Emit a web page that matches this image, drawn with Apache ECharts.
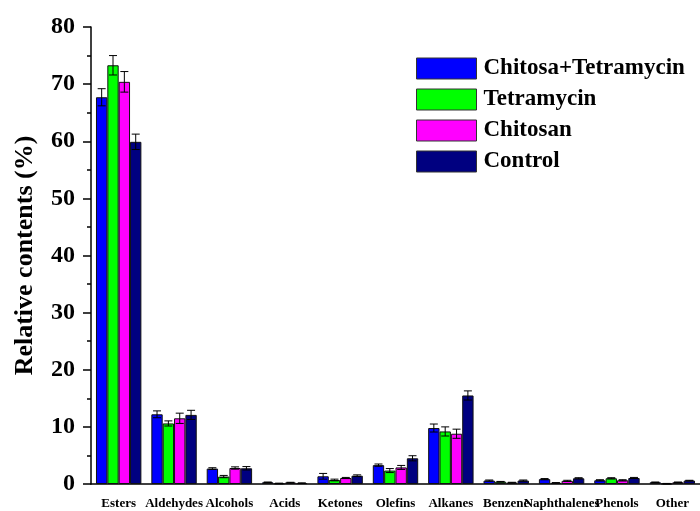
<!DOCTYPE html>
<html>
<head>
<meta charset="utf-8">
<script src="https://cdn.jsdelivr.net/npm/echarts@6/dist/echarts.min.js"></script>
<style>html,body{margin:0;padding:0;background:#fff}#c{width:700px;height:511px}</style>
</head>
<body>
<div id="c"></div>
<script>
const categories = ['Esters','Aldehydes','Alcohols','Acids','Ketones','Olefins','Alkanes','Benzene','Naphthalenes','Phenols','Other'];
const seriesNames = ['Chitosa+Tetramycin','Tetramycin','Chitosan','Control'];
const chitosaTetramycin = [67.7, 12.2, 2.7, 0.3, 1.35, 3.3, 9.8, 0.6, 0.85, 0.65, 0.3];
const tetramycin        = [73.3, 10.6, 1.3, 0.1, 0.7, 2.35, 9.2, 0.4, 0.2, 1.0, 0.05];
const chitosan          = [70.4, 11.5, 2.8, 0.25, 1.05, 2.9, 8.8, 0.25, 0.55, 0.65, 0.3];
const control           = [59.9, 12.1, 2.75, 0.15, 1.45, 4.5, 15.5, 0.6, 1.0, 1.05, 0.6];
const chitosaTetramycinErr = [1.5, 0.6, 0.15, 0.05, 0.5, 0.2, 0.7, 0.1, 0.1, 0.1, 0.05];
const tetramycinErr        = [1.7, 0.45, 0.2, 0.05, 0.15, 0.35, 0.8, 0.05, 0.05, 0.1, 0.05];
const chitosanErr          = [1.8, 0.9, 0.2, 0.05, 0.1, 0.35, 0.8, 0.05, 0.1, 0.1, 0.05];
const controlErr           = [1.35, 0.8, 0.3, 0.05, 0.15, 0.45, 0.8, 0.1, 0.1, 0.1, 0.05];
const yTicks = [0,10,20,30,40,50,60,70,80];

const values = [chitosaTetramycin, tetramycin, chitosan, control];
const errors = [chitosaTetramycinErr, tetramycinErr, chitosanErr, controlErr];
const colors = ['#0000FF','#00FF00','#FF00FF','#000080'];
const FONT = 'Liberation Serif';
const CAT_GAP = 0.18;

const chart = echarts.init(document.getElementById('c'));
const series = [];
values.forEach((vals, k) => {
  series.push({
    name: seriesNames[k], type: 'bar', xAxisIndex: 0, data: vals,
    barGap: '0%', barCategoryGap: (CAT_GAP*100)+'%',
    itemStyle: {color: colors[k], borderColor: '#111', borderWidth: 1},
    z: 2
  });
});
values.forEach((vals, k) => {
  series.push({
    type: 'custom', xAxisIndex: 0, z: 5, silent: true,
    data: categories.map((c, i) => [i, vals[i], errors[k][i]]),
    encode: {x: 0, y: 1},
    renderItem: function (params, api) {
      const i = api.value(0), v = api.value(1), e = api.value(2);
      const c = api.coord([i, v]);
      const band = api.size([1, 0])[0];
      const bw = band * (1 - CAT_GAP) / 4;
      const x = c[0] + (k - 1.5) * bw;
      const top = api.coord([i, v + e])[1];
      const bot = api.coord([i, Math.max(0, v - e)])[1];
      const cap = 4;
      const st = {stroke: '#000', lineWidth: 1};
      return {type: 'group', children: [
        {type: 'line', shape: {x1: x, y1: top, x2: x, y2: bot}, style: st},
        {type: 'line', shape: {x1: x - cap, y1: top, x2: x + cap, y2: top}, style: st},
        {type: 'line', shape: {x1: x - cap, y1: bot, x2: x + cap, y2: bot}, style: st}
      ]};
    }
  });
});

chart.setOption({
  animation: false,
  backgroundColor: '#fff',
  grid: {left: 91, right: -7, top: 27, bottom: 27, containLabel: false},
  legend: {
    data: seriesNames, orient: 'vertical', left: 416, top: 57, padding: 0,
    itemWidth: 60, itemHeight: 21, itemGap: 8, icon: 'rect',
    itemStyle: {borderColor: '#333', borderWidth: 1},
    textStyle: {fontFamily: FONT, fontWeight: 'bold', fontSize: 23, lineHeight: 21, color: '#000', padding: [0,0,0,2]}
  },
  xAxis: [{
    type: 'category', data: categories, position: 'bottom',
    axisLine: {lineStyle: {color: '#000', width: 1.5}},
    axisTick: {alignWithLabel: true, length: 8, lineStyle: {color: '#000', width: 1.5}},
    axisLabel: {interval: 0, fontFamily: FONT, fontWeight: 'bold', fontSize: 13, color: '#000', margin: 13, hideOverlap: false}
  }, {
    type: 'category', data: categories, position: 'bottom',
    axisLine: {show: false},
    axisTick: {length: 4, lineStyle: {color: '#000', width: 1.5}},
    axisLabel: {show: false}
  }],
  yAxis: {
    type: 'value', min: yTicks[0], max: yTicks[yTicks.length-1], interval: 10,
    name: 'Relative contents (%)', nameLocation: 'middle', nameGap: 53,
    nameTextStyle: {fontFamily: FONT, fontWeight: 'bold', fontSize: 26, color: '#000'},
    axisLine: {show: true, lineStyle: {color: '#000', width: 1.5}},
    axisTick: {show: true, length: 8, lineStyle: {color: '#000', width: 1.5}},
    minorTick: {show: true, splitNumber: 2, length: 4, lineStyle: {color: '#000', width: 1.5}},
    splitLine: {show: false},
    axisLabel: {fontFamily: FONT, fontWeight: 'bold', fontSize: 24, color: '#000', margin: 16}
  },
  series: series
});
</script>
</body>
</html>
